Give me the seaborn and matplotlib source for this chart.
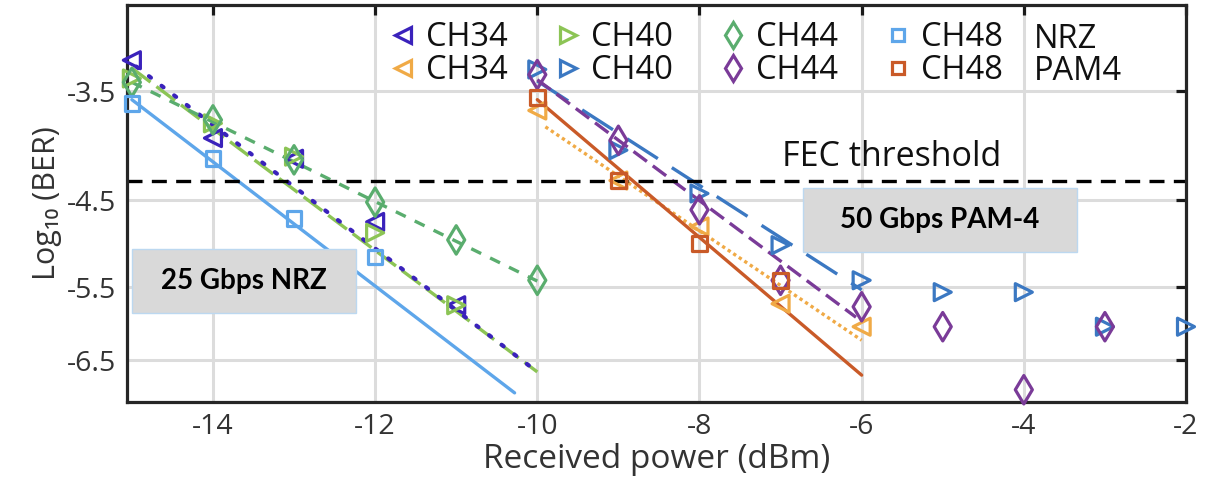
import numpy as np
import matplotlib
matplotlib.use("Agg")
import matplotlib.pyplot as plt
from matplotlib.lines import Line2D
from matplotlib.patches import Rectangle
import seaborn as sns

# ---------------- data ----------------
x_ticks = [-14, -12, -10, -8, -6, -4, -2]
x_tick_labels = ["-14", "-12", "-10", "-8", "-6", "-4", "-2"]
y_ticks = [-3.5, -4.5, -5.5, -6.5]
y_tick_labels = ["-3.5", "-4.5", "-5.5", "-6.5"]
fec_threshold = -4.3

# NRZ (25 Gbps)
nrz_ch34_x = [-15, -14, -13, -12, -11]
nrz_ch34_y = [-3.26, -3.90, -4.09, -4.73, -5.73]
nrz_ch40_x = [-15, -14, -13, -12, -11]
nrz_ch40_y = [-3.40, -3.77, -4.07, -4.85, -5.73]
nrz_ch44_x = [-15, -14, -13, -12, -11, -10]
nrz_ch44_y = [-3.43, -3.74, -4.10, -4.52, -4.93, -5.41]
nrz_ch48_x = [-15, -14, -13, -12]
nrz_ch48_y = [-3.60, -4.09, -4.69, -5.13]

# PAM4 (50 Gbps)
pam_ch34_x = [-10, -9, -8, -7, -6]
pam_ch34_y = [-3.66, -4.30, -4.78, -5.71, -6.02]
pam_ch40_x = [-10, -9, -8, -7, -6, -5, -4, -3, -2]
pam_ch40_y = [-3.33, -4.01, -4.43, -4.99, -5.41, -5.56, -5.56, -6.02, -6.02]
pam_ch44_x = [-10, -9, -8, -7, -6, -5, -4, -3]
pam_ch44_y = [-3.37, -3.92, -4.60, -5.41, -5.75, -6.02, -6.96, -6.02]
pam_ch48_x = [-10, -9, -8, -7]
pam_ch48_y = [-3.55, -4.30, -4.97, -5.41]

# fitted trend lines (end points)
fit_nrz_ch34 = ([-15.1, -10.0], [-3.236, -6.68])
fit_nrz_ch40 = ([-15.0, -10.0], [-3.32, -6.68])
fit_nrz_ch44 = ([-15.0, -10.0], [-3.43, -5.42])
fit_nrz_ch48 = ([-15.0, -10.28], [-3.57, -7.01])
fit_pam_ch34 = ([-9.9, -6.0], [-3.80, -6.21])
fit_pam_ch40 = ([-10.0, -6.0], [-3.42, -5.53])
fit_pam_ch44 = ([-10.0, -6.07], [-3.41, -5.89])
fit_pam_ch48 = ([-10.0, -6.0], [-3.57, -6.73])

channel_names = ["CH34", "CH40", "CH44", "CH48"]

# ---------------- style ----------------
sns.set_theme(style="white")
plt.rcParams["font.family"] = ["Open Sans", "DejaVu Sans"]
plt.rcParams["axes.unicode_minus"] = False

C_NRZ34 = "#3a22bb"
C_NRZ40 = "#8cc455"
C_NRZ44 = "#5aad6e"
C_NRZ48 = "#5ea6ea"
C_PAM34 = "#f0aa46"
C_PAM40 = "#3b78c2"
C_PAM44 = "#7a3b98"
C_PAM48 = "#c95a28"

W, H = 1217, 479
fig = plt.figure(figsize=(W / 100, H / 100), dpi=100)
ax = fig.add_axes([127 / W, 1 - 402 / H, (1186 - 127) / W, (402 - 5) / H])

LW = 2.4
DOT = (0, (0.6, 3.2))
lines = [
    (fit_nrz_ch40, C_NRZ40, (0, (7, 2.2))),
    (fit_nrz_ch34, C_NRZ34, DOT),
    (fit_nrz_ch44, C_NRZ44, (0, (3.3, 3.0))),
    (fit_nrz_ch48, C_NRZ48, "-"),
    (fit_pam_ch34, C_PAM34, (0, (1.0, 1.0))),
    (fit_pam_ch40, C_PAM40, (0, (11, 5))),
    (fit_pam_ch44, C_PAM44, (0, (5, 2.2))),
    (fit_pam_ch48, C_PAM48, "-"),
]
for (fx, fy), col, ls in lines:
    sns.lineplot(x=fx, y=fy, ax=ax, color=col, linestyle=ls,
                 lw=3.0 if ls == DOT else LW, legend=False, zorder=2,
                 dash_capstyle="round" if ls == DOT else "butt")

MEW = 2.3
SIZES = {"<": 150, ">": 150, "d": 210, "s": 110}
MSIZES = {"<": 11, ">": 11, "d": 13, "s": 9}
series = [
    (nrz_ch34_x, nrz_ch34_y, "<", C_NRZ34),
    (nrz_ch40_x, nrz_ch40_y, ">", C_NRZ40),
    (nrz_ch44_x, nrz_ch44_y, "d", C_NRZ44),
    (nrz_ch48_x, nrz_ch48_y, "s", C_NRZ48),
    (pam_ch34_x, pam_ch34_y, "<", C_PAM34),
    (pam_ch40_x, pam_ch40_y, ">", C_PAM40),
    (pam_ch44_x, pam_ch44_y, "d", C_PAM44),
    (pam_ch48_x, pam_ch48_y, "s", C_PAM48),
]
for xs, ys, mk, col in series:
    sns.scatterplot(x=xs, y=ys, ax=ax, marker=mk, s=SIZES[mk],
                    color=col, facecolor="none", edgecolor=col,
                    linewidth=MEW, legend=False, zorder=3, clip_on=False)

ax.axhline(fec_threshold, color="black", lw=2.4, linestyle=(0, (4.5, 2.8)), zorder=2.5)

# y axis: log10(-log10 BER) style spacing
ax.set_yscale("function", functions=(lambda y: -np.log10(-np.asarray(y, float)),
                                     lambda v: -10 ** (-np.asarray(v, float))))
ax.set_xlim(-15.06, -2.0)
ax.set_ylim(-7.159, -2.871)
ax.set_xticks(x_ticks)
ax.set_xticklabels(x_tick_labels)
ax.set_yticks(y_ticks)
ax.set_yticklabels(y_tick_labels)
ax.yaxis.set_minor_locator(matplotlib.ticker.NullLocator())

ax.grid(True, color="#dcdcdc", lw=2.2, zorder=0)
ax.set_axisbelow(True)
for s in ax.spines.values():
    s.set_color("#262626")
    s.set_linewidth(2.3)
ax.tick_params(axis="both", which="major", direction="in", length=7, width=2.3,
               color="#1a1a1a", top=True, right=True, labelsize=20.5,
               labelcolor="#333333", pad=8)

ax.set_xlabel("Received power (dBm)", fontsize=24, color="#333333", labelpad=1)
ax.set_ylabel("Log\u2081\u2080 (BER)", fontsize=22, color="#333333", labelpad=3)

# FEC label
fig.text(782 / W, 1 - 157 / H, "FEC threshold", fontsize=24.5,
         color="#111111", ha="left", va="center")

# Legend (row 1: NRZ, row 2: PAM4)
handles, labels = [], []
for i in range(4):
    for _, _, mk, col in (series[i], series[i + 4]):
        handles.append(Line2D([], [], marker=mk, ls="none", mfc="none", mec=col,
                              mew=MEW, ms=MSIZES[mk]))
        labels.append(channel_names[i])
leg = ax.legend(handles, labels, ncol=4, loc="upper left",
                bbox_to_anchor=(390 / W, 1 - 21 / H), bbox_transform=fig.transFigure,
                frameon=False, fontsize=23.5, handlelength=0.8, handletextpad=0.3,
                columnspacing=1.45, labelspacing=0.0, borderpad=0, borderaxespad=0)
for t in leg.get_texts():
    t.set_color("#111111")
fig.text(1034 / W, 1 - 39 / H, "NRZ", fontsize=23.5, color="#111111", va="center")
fig.text(1034 / W, 1 - 72 / H, "PAM4", fontsize=23.5, color="#111111", va="center")

# annotation boxes
for (x0, y0, x1, y1), label in [((132, 249, 356, 313), "25 Gbps NRZ"),
                                ((803, 188, 1077, 252), "50 Gbps PAM-4")]:
    fig.add_artist(Rectangle((x0 / W, 1 - y1 / H), (x1 - x0) / W, (y1 - y0) / H,
                             transform=fig.transFigure, facecolor="#d9d9d9",
                             edgecolor="#bcd8f0", lw=1.0, zorder=5))
    fig.text((x0 + x1) / 2 / W, 1 - (y0 + y1) / 2 / H, label, fontsize=20,
             fontweight="bold", family=["Lato", "DejaVu Sans"], color="black",
             ha="center", va="center", zorder=6)

fig.savefig("out.png", dpi=100)
